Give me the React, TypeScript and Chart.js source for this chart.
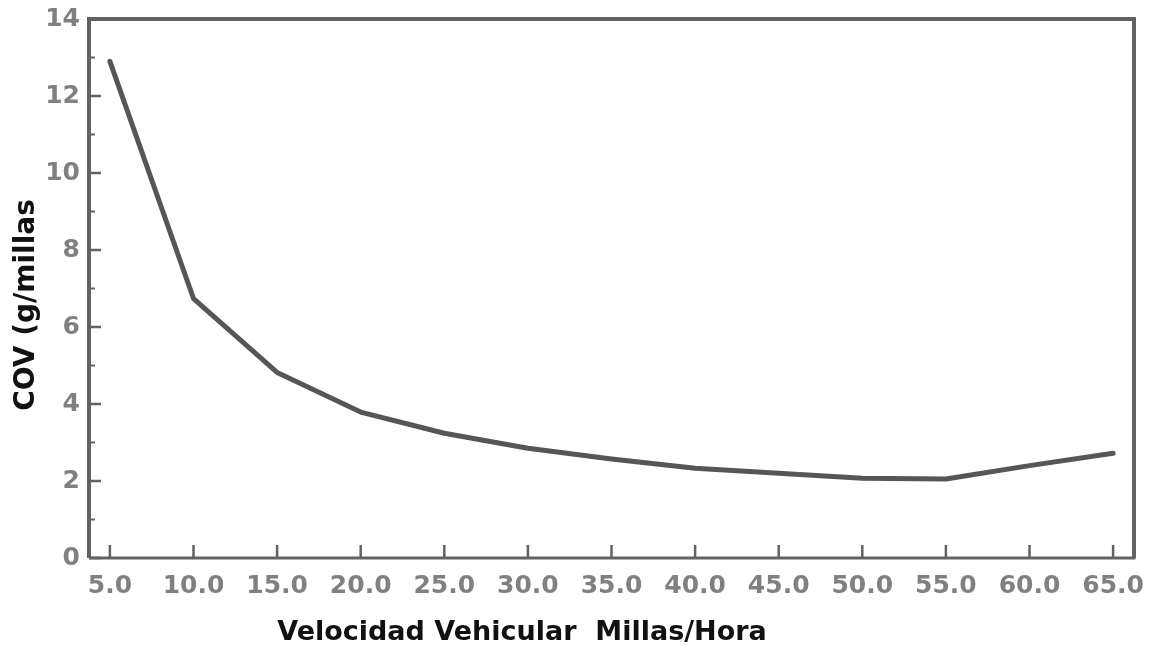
import React, { useEffect, useRef } from 'react';
import { Chart, registerables } from 'chart.js';

Chart.register(...registerables);

const speeds = [5, 10, 15, 20, 25, 30, 35, 40, 45, 50, 55, 60, 65];
const covValues = [12.9, 6.74, 4.82, 3.79, 3.24, 2.85, 2.57, 2.33, 2.2, 2.07, 2.05, 2.4, 2.72];
const yTicks = [0, 2, 4, 6, 8, 10, 12, 14];
const yMinorTicks = [1, 3, 5, 7, 9, 11, 13];
const xTitle = 'Velocidad Vehicular  Millas/Hora';
const yTitle = 'COV (g/millas';

const AXIS_COLOR = '#626262';
const LABEL_COLOR = '#808080';

const framePlugin = {
  id: 'frame',
  afterDraw(chart: any) {
    const { ctx, chartArea } = chart;
    const { left, right, top, bottom } = chartArea;
    const xs = chart.scales.x;
    const ys = chart.scales.y;
    ctx.save();
    // frame
    ctx.strokeStyle = AXIS_COLOR;
    ctx.lineWidth = 4;
    ctx.beginPath();
    ctx.moveTo(left, bottom);
    ctx.lineTo(left, top);
    ctx.lineTo(right, top);
    ctx.lineTo(right, bottom);
    ctx.stroke();
    ctx.lineWidth = 3;
    ctx.beginPath();
    ctx.moveTo(left, bottom);
    ctx.lineTo(right + 1.5, bottom);
    ctx.stroke();
    // y ticks inward
    ctx.lineWidth = 2.5;
    yTicks.forEach((v) => {
      const p = ys.getPixelForValue(v);
      ctx.beginPath();
      ctx.moveTo(left, p);
      ctx.lineTo(left + 12, p);
      ctx.stroke();
    });
    ctx.lineWidth = 2;
    yMinorTicks.forEach((v) => {
      const p = ys.getPixelForValue(v);
      ctx.beginPath();
      ctx.moveTo(left, p);
      ctx.lineTo(left + 6, p);
      ctx.stroke();
    });
    // x ticks upward
    ctx.lineWidth = 2.5;
    speeds.forEach((v) => {
      const p = xs.getPixelForValue(v);
      ctx.beginPath();
      ctx.moveTo(p, bottom);
      ctx.lineTo(p, bottom - 13);
      ctx.stroke();
    });
    // titles
    ctx.fillStyle = '#111111';
    ctx.textAlign = 'center';
    ctx.textBaseline = 'middle';
    ctx.font = 'bold 27px "DejaVu Sans", sans-serif';
    ctx.fillText(xTitle, left + 433, chart.height - 12);
    ctx.font = 'bold 28px "DejaVu Sans", sans-serif';
    ctx.translate(27, top + 286);
    ctx.rotate(-Math.PI / 2);
    ctx.fillText(yTitle, 0, 0);
    ctx.restore();
  },
};

export default function App() {
  const canvasRef = useRef<HTMLCanvasElement | null>(null);

  useEffect(() => {
    const canvas = canvasRef.current;
    if (!canvas) return;
    const chart = new Chart(canvas, {
      type: 'line',
      data: {
        datasets: [
          {
            data: speeds.map((s, i) => ({ x: s, y: covValues[i] })),
            borderColor: '#565656',
            borderWidth: 5,
            pointRadius: 0,
            tension: 0,
            fill: false,
            borderCapStyle: 'round',
            borderJoinStyle: 'round',
          },
        ],
      },
      options: {
        animation: false,
        responsive: true,
        maintainAspectRatio: false,
        layout: { padding: { top: 19, right: 17, left: 0, bottom: 0 } },
        plugins: {
          legend: { display: false },
          tooltip: { enabled: false },
          title: { display: false },
        },
        scales: {
          x: {
            type: 'linear',
            min: 3.75,
            max: 66.25,
            grid: { display: false, drawTicks: false },
            border: { display: false },
            afterBuildTicks: (scale: any) => {
              scale.ticks = speeds.map((v) => ({ value: v }));
            },
            afterFit: (scale: any) => {
              scale.height = 87;
              scale.paddingLeft = 0;
              scale.paddingRight = 0;
            },
            ticks: {
              autoSkip: false,
              maxRotation: 0,
              padding: 13,
              color: LABEL_COLOR,
              font: { family: '"DejaVu Sans", sans-serif', size: 25, weight: 'bold' },
              callback: (v: any) => Number(v).toFixed(1),
            },
          },
          y: {
            type: 'linear',
            min: 0,
            max: 14,
            grid: { display: false, drawTicks: false },
            border: { display: false },
            afterBuildTicks: (scale: any) => {
              scale.ticks = yTicks.map((v) => ({ value: v }));
            },
            afterFit: (scale: any) => {
              scale.width = 89;
              scale.paddingTop = 0;
              scale.paddingBottom = 0;
            },
            ticks: {
              padding: 9,
              color: LABEL_COLOR,
              font: { family: '"DejaVu Sans", sans-serif', size: 25, weight: 'bold' },
              callback: (v: any) => String(v),
            },
          },
        },
      },
      plugins: [framePlugin],
    });
    return () => chart.destroy();
  }, []);

  return (
    <div style={{ position: 'absolute', left: 0, top: 0, width: 1151, height: 645, background: '#fff' }}>
      <canvas ref={canvasRef} />
    </div>
  );
}
